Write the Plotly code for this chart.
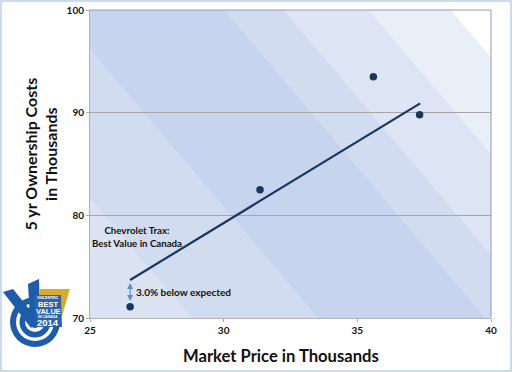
import plotly.graph_objects as go

W, H = 512, 372
L, R, T, B = 90, 21, 10, 54

price = [26.5, 31.36, 35.6, 37.33]
cost = [71.1, 82.5, 93.5, 89.8]
trend_x = [26.5, 37.35]
trend_y = [73.7, 90.9]
arrow_x = 26.5
arrow_top = 73.4
arrow_bottom = 71.5

# Diagonal bands: x position where each edge meets y=100, and fill to the right of it
band_slope = -3.07  # data units of y per unit of x
band_edges = [15.0, 19.0, 23.73, 30.05, 32.26, 35.44, 38.5, 60.0]
band_colors = ["#dbe3f3", "#d1dcf0", "#c6d4ee", "#d1dcf0", "#dde4f3", "#e9eef7", "#ffffff"]

x_ticks = [25, 30, 35, 40]
y_ticks = [70, 80, 90, 100]
x_title = "Market Price in Thousands"
y_title = "5 yr Ownership Costs<br>in Thousands"
note_title = "Chevrolet Trax:<br>Best Value in Canada"
note_gap = "3.0% below expected"

FONT = "Lato, Carlito, sans-serif"
TXT = "#111111"

def px(x):
    return (x - L) / (W - L - R)

def py(y):
    return 1 - (y - T) / (H - T - B)

def path(points):
    return "M" + " L".join(f"{px(a):.5f},{py(b):.5f}" for a, b in points) + " Z"

shapes = []
for i, col in enumerate(band_colors):
    a, b = band_edges[i], band_edges[i + 1]
    y0, y1 = 100, 60
    dx = (y1 - y0) / band_slope
    shapes.append(dict(type="path", xref="x", yref="y", layer="below", line_width=0, fillcolor=col,
                       path=f"M{a},{y0} L{b},{y0} L{b+dx},{y1} L{a+dx},{y1} Z"))

# window frame
shapes.append(dict(type="rect", xref="paper", yref="paper", x0=px(1), x1=px(W - 1), y0=py(H - 1), y1=py(1),
                   line=dict(color="#bcd0e8", width=1.5), fillcolor="rgba(0,0,0,0)", layer="below"))

# top/right thin plot edge
shapes.append(dict(type="path", xref="paper", yref="paper", path="M0,1 L1,1 L1,0",
                   line=dict(color="#8c9cbc", width=1), layer="above"))

# logo
BLUE = "#1c5ca8"
def circle(r, col):
    cx, cy = 35, 322
    return dict(type="circle", xref="paper", yref="paper", x0=px(cx - r), x1=px(cx + r), y0=py(cy + r), y1=py(cy - r),
                fillcolor=col, line_width=0, layer="above")

shapes += [
    dict(type="path", xref="paper", yref="paper", path=path([(40, 289), (70, 289), (62, 316), (40, 316)]),
         fillcolor="#d9aa2b", line_width=0, layer="above"),
    circle(25, BLUE), circle(19, "#ffffff"), circle(15.5, BLUE), circle(10, "#ffffff"), circle(6, BLUE),
    dict(type="path", xref="paper", yref="paper",
         path=path([(3, 292), (13, 289), (38, 320), (31, 328)]), fillcolor=BLUE, line_width=0, layer="above"),
    dict(type="path", xref="paper", yref="paper",
         path=path([(28, 284), (39, 279), (40, 310), (36, 322), (30, 318)]), fillcolor=BLUE, line_width=0, layer="above"),
    dict(type="path", xref="paper", yref="paper",
         path=path([(34, 295), (61, 295), (62, 327), (36, 327)]), fillcolor="#2e62a6", line_width=0, layer="above"),
]

def logo_text(text, x, y, size):
    return dict(text=text, xref="paper", yref="paper", x=px(x), y=py(y), showarrow=False,
                font=dict(family="Liberation Sans, Arial", size=size, color="white"), xanchor="center", yanchor="middle",
                borderpad=0)

def px_text(text, x, y, size, angle=0, xanchor="center", align="center"):
    return dict(text=text, xref="paper", yref="paper", x=px(x), y=py(y), showarrow=False, textangle=angle,
                xanchor=xanchor, yanchor="middle", align=align,
                font=dict(family=FONT, size=size, color=TXT, weight="bold"))

annotations = [
    px_text(x_title, 281, 356, 16.6),
    px_text(y_title, 41, 154.5, 16, angle=-90),
    px_text(note_title, 137, 236.5, 9.7),
    px_text(note_gap, 134, 292, 10, xanchor="left"),
    dict(x=arrow_x, y=arrow_top, ax=arrow_x, ay=arrow_bottom, xref="x", yref="y", axref="x", ayref="y", text="",
         showarrow=True, arrowhead=2, arrowside="end+start", arrowsize=1, arrowwidth=1.2, arrowcolor="#5b8fc9"),
    logo_text("<b>VINCENTRIC</b>", 48, 297.5, 3.5),
    logo_text("<b>BEST</b>", 48, 304, 7.5),
    logo_text("<b>VALUE</b>", 48, 311, 7.5),
    logo_text("<b>IN CANADA</b>", 48, 316.5, 3.5),
    logo_text("<b>2014</b>", 48, 322.5, 9.5),
]

fig = go.Figure()
fig.add_trace(go.Scatter(x=trend_x, y=trend_y, mode="lines", line=dict(color="#17375e", width=2.2),
                         hoverinfo="skip", showlegend=False, cliponaxis=False))
fig.add_trace(go.Scatter(x=price, y=cost, mode="markers", marker=dict(color="#17375e", size=7.5),
                         showlegend=False, cliponaxis=False))

axis_common = dict(showline=True, linecolor="#b0b0b8", linewidth=1, ticks="outside", ticklen=3, tickcolor="#a6a6a6",
                   automargin=False, tickfont=dict(family=FONT, size=10, color=TXT, weight="bold"))
fig.update_layout(
    width=W, height=H, margin=dict(l=L, r=R, t=T, b=B), paper_bgcolor="white", plot_bgcolor="white",
    shapes=shapes, annotations=annotations, showlegend=False,
    xaxis=dict(range=[25, 40], tickvals=x_ticks, showgrid=False, zeroline=False, **axis_common),
    yaxis=dict(range=[70, 100], tickvals=y_ticks, showgrid=True, gridcolor="#a6a6a6", gridwidth=1, zeroline=False,
               **axis_common),
)
fig.write_html("out.html", post_script="document.body.style.margin='0';", config=dict(displayModeBar=False))
